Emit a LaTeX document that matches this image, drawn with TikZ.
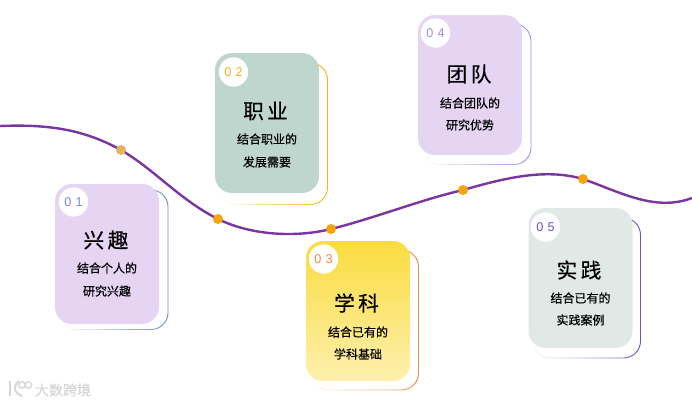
\documentclass[tikz,border=0pt]{standalone}
\usepackage{fontspec}
\setsansfont{Liberation Sans}
\newfontfamily\cjk[FakeBold=0.5]{Noto Sans CJK SC}
\usetikzlibrary{fadings}
\definecolor{wavepurple}{HTML}{7A35A0}
\definecolor{dottan}{HTML}{E2B65E}
\definecolor{dotamber}{HTML}{F2A60C}
\definecolor{cardpurple}{HTML}{E6D5F2}
\definecolor{cardgreen}{HTML}{BFD6CF}
\definecolor{cardpale}{HTML}{E0E9E6}
\definecolor{cardyellow}{HTML}{FBDC3F}
\definecolor{cardcream}{HTML}{FDF0AE}
\definecolor{numblue}{HTML}{7B86D8}
\definecolor{numgold}{HTML}{F5B01E}
\definecolor{numorange}{HTML}{F08A3C}
\definecolor{numlilac}{HTML}{A08EE0}
\definecolor{numviolet}{HTML}{6A4ED0}
\definecolor{markgray}{HTML}{D6D6D6}
\tikzfading[name=backfade, left color=transparent!100, right color=transparent!0]
\tikzset{
  card/.style={minimum width=78pt,minimum height=105pt,inner sep=0pt,rounded corners=12.75pt},
  backline/.style={line width=0.7pt,rounded corners=12.75pt,path fading=backfade},
  badge/.style={circle,fill=white,minimum size=22pt,inner sep=0pt,font=\sffamily\fontsize{9.5}{9.5}\selectfont},
  titlelabel/.style={font=\cjk\fontsize{15.5}{15.5}\selectfont,inner sep=0pt},
  textlabel/.style={font=\cjk\fontsize{9}{9}\selectfont,inner sep=0pt},
  wavedot/.style={circle,minimum size=7.5pt,inner sep=0pt},
}
\begin{document}
\begin{tikzpicture}[x=0.75pt,y=-0.75pt]
\useasboundingbox (0,0) rectangle (692,404);

% wave
\coordinate (pone) at (121,150);
\coordinate (ptwo) at (218,219);
\coordinate (pthree) at (331,229);
\coordinate (pfour) at (463,190);
\coordinate (pfive) at (583,179);
\coordinate (wavein) at (0,126);
\coordinate (waveout) at (692,198);
\draw[wavepurple,line width=1.8pt] (wavein) .. controls (50,124) and (85,130) .. (pone)
  .. controls (155,170) and (180,200) .. (ptwo)
  .. controls (250,235) and (295,238) .. (pthree)
  .. controls (375,218) and (420,200) .. (pfour)
  .. controls (505,178) and (545,168) .. (pfive)
  .. controls (620,192) and (655,212) .. (waveout);
\node[wavedot,fill=dottan] (dotone) at (pone) {};
\node[wavedot,fill=dotamber] (dottwo) at (ptwo) {};
\node[wavedot,fill=dotamber] (dotthree) at (pthree) {};
\node[wavedot,fill=dotamber] (dotfour) at (pfour) {};
\node[wavedot,fill=dotamber] (dotfive) at (pfive) {};

% card 1
\draw[backline,draw=numblue] (60,190) rectangle (168,329.5);
\node[card,fill=cardpurple] (xingqu) at (107,254) {};
\node[badge,text=numblue] (xingqunum) at (73.5,202) {0\,\,1};
\node[titlelabel] (xingqutitle) at (106,240) {兴\,趣};
\node[textlabel] (xingquone) at (107,268) {结合个人的};
\node[textlabel] (xingqutwo) at (107,291) {研究兴趣};

% card 2
\draw[backline,draw=numgold] (220,63) rectangle (327.5,204.5);
\node[card,fill=cardgreen] (zhiye) at (267,123) {};
\node[badge,text=numgold] (zhiyenum) at (233.5,72) {0\,\,2};
\node[titlelabel] (zhiyetitle) at (265.5,111) {职\,业};
\node[textlabel] (zhiyeone) at (267,139) {结合职业的};
\node[textlabel] (zhiyetwo) at (267,162) {发展需要};

% card 3
\draw[backline,draw=numorange] (311,250) rectangle (418.5,390);
\node[card,top color=cardyellow,bottom color=cardcream] (xueke) at (358,311) {};
\node[badge,text=numorange] (xuekenum) at (323.5,259) {0\,\,3};
\node[titlelabel] (xueketitle) at (356.5,303) {学\,科};
\node[textlabel] (xuekeone) at (358,332) {结合已有的};
\node[textlabel] (xueketwo) at (358,354) {学科基础};

% card 4
\draw[backline,draw=numlilac] (423,24) rectangle (531,164.5);
\node[card,fill=cardpurple] (tuandui) at (470,85) {};
\node[badge,text=numlilac] (tuanduinum) at (435.5,33) {0\,\,4};
\node[titlelabel] (tuanduititle) at (469,74) {团\,队};
\node[textlabel] (tuanduione) at (470,103) {结合团队的};
\node[textlabel] (tuanduitwo) at (470,125) {研究优势};

% card 5
\draw[backline,draw=numviolet] (533,218) rectangle (640.5,358);
\node[card,fill=cardpale] (shijian) at (580.5,278) {};
\node[badge,text=numviolet] (shijiannum) at (545.5,227) {0\,\,5};
\node[titlelabel] (shijiantitle) at (579,270) {实\,践};
\node[textlabel] (shijianone) at (580.5,298) {结合已有的};
\node[textlabel] (shijiantwo) at (580.5,320) {实践案例};

% watermark
\draw[markgray,line width=1.5pt] (10,381) -- (10,396);
\draw[markgray,line width=1.5pt] (19,381) .. controls (13,386) and (13,392) .. (22,396);
\draw[markgray,line width=1pt] (22,385) circle (3.2) (28.5,385) circle (3.2);
\node[font=\cjk\fontsize{10.5}{10.5}\selectfont,text=markgray,inner sep=0pt] (marktext) at (63,390) {大数跨境};
\end{tikzpicture}
\end{document}
